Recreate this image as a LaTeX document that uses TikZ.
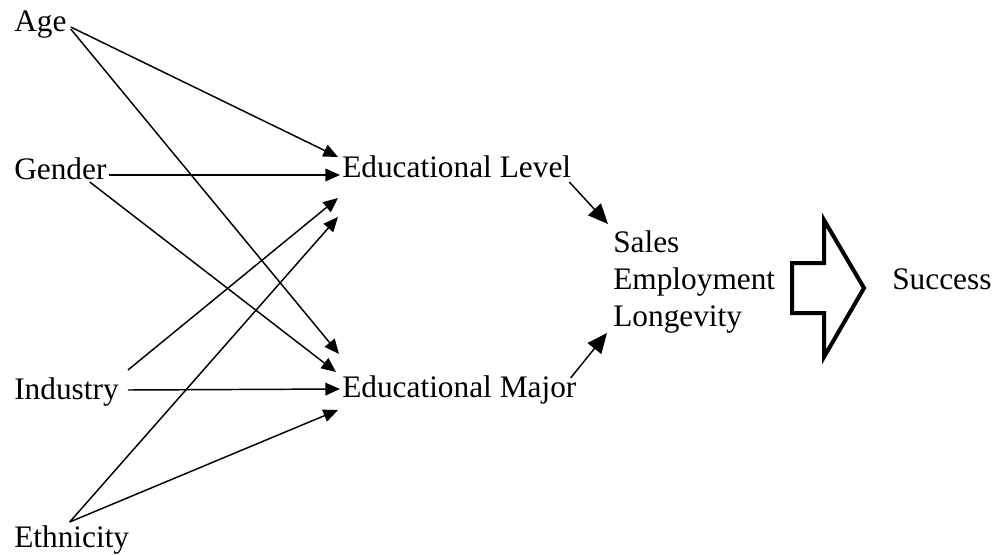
\documentclass[tikz,border=0pt]{standalone}
\usepackage{fontspec}
\setmainfont{Liberation Serif}
\usetikzlibrary{arrows.meta,calc}

\tikzset{%
  var/.style={inner sep=0pt,anchor=base west,font=\fontsize{23.5}{28}\selectfont},%
  link/.style={line width=1.1pt,-{Triangle[length=11pt,width=9.5pt]}},%
  biglink/.style={line width=1.1pt,-{Triangle[length=15pt,width=13pt]}},%
}

\begin{document}
\begin{tikzpicture}[x=0.75pt,y=-0.75pt]%
\useasboundingbox (0,0) rectangle (996,554);%
% predictors
\node[var] (age) at (14,31) {Age};%
\node[var] (gender) at (14,179) {Gender};%
\node[var] (industry) at (14,399) {Industry};%
\node[var] (ethnicity) at (14,547) {Ethnicity};%
% education
\node[var] (edlevel) at (342,177) {Educational Level};%
\node[var] (edmajor) at (342,397) {Educational Major};%
% outcome measures
\node[var] (sales) at (613,252) {Sales};%
\node[var] (employment) at (613,289) {Employment};%
\node[var] (longevity) at (613,326) {Longevity};%
\node[var] (success) at (892,289) {Success};%
% predictors into educational level
\draw[link] ($(age.base east)+(4,-4)$) -- ($(edlevel.base west)+(-4,-20)$);%
\draw[link] ($(gender.base east)+(2,-4)$) -- ($(edlevel.base west)+(-2,-2)$);%
\draw[link] ($(industry.base east)+(9,-29)$) -- ($(edlevel.base west)+(-4,21)$);%
\draw[link] ($(ethnicity.north)+(-2,-3)$) -- ($(edlevel.base west)+(-4,40)$);%
% predictors into educational major
\draw[link] ($(age.base east)+(4,-2)$) -- ($(edmajor.base west)+(-3,-43)$);%
\draw[link] ($(gender.base east)+(-17,3)$) -- ($(edmajor.base west)+(-6,-25)$);%
\draw[link] ($(industry.base east)+(9,-9)$) -- ($(edmajor.base west)+(-2,-8)$);%
\draw[link] ($(ethnicity.north)+(-2,-3)$) -- ($(edmajor.base west)+(-4,13)$);%
% education into outcomes
\draw[biglink] ($(edlevel.base east)+(-2,5)$) -- ($(sales.base west)+(-5,-28)$);%
\draw[biglink] ($(edmajor.base east)+(-6,-19)$) -- ($(longevity.base west)+(-6,7)$);%
% block arrow
\draw[line width=3pt,join=miter] (792,263) -- (824,263) -- (824,220) -- (864,288) -- (824,357) -- (824,313) -- (792,313) -- cycle;%
\end{tikzpicture}
\end{document}
